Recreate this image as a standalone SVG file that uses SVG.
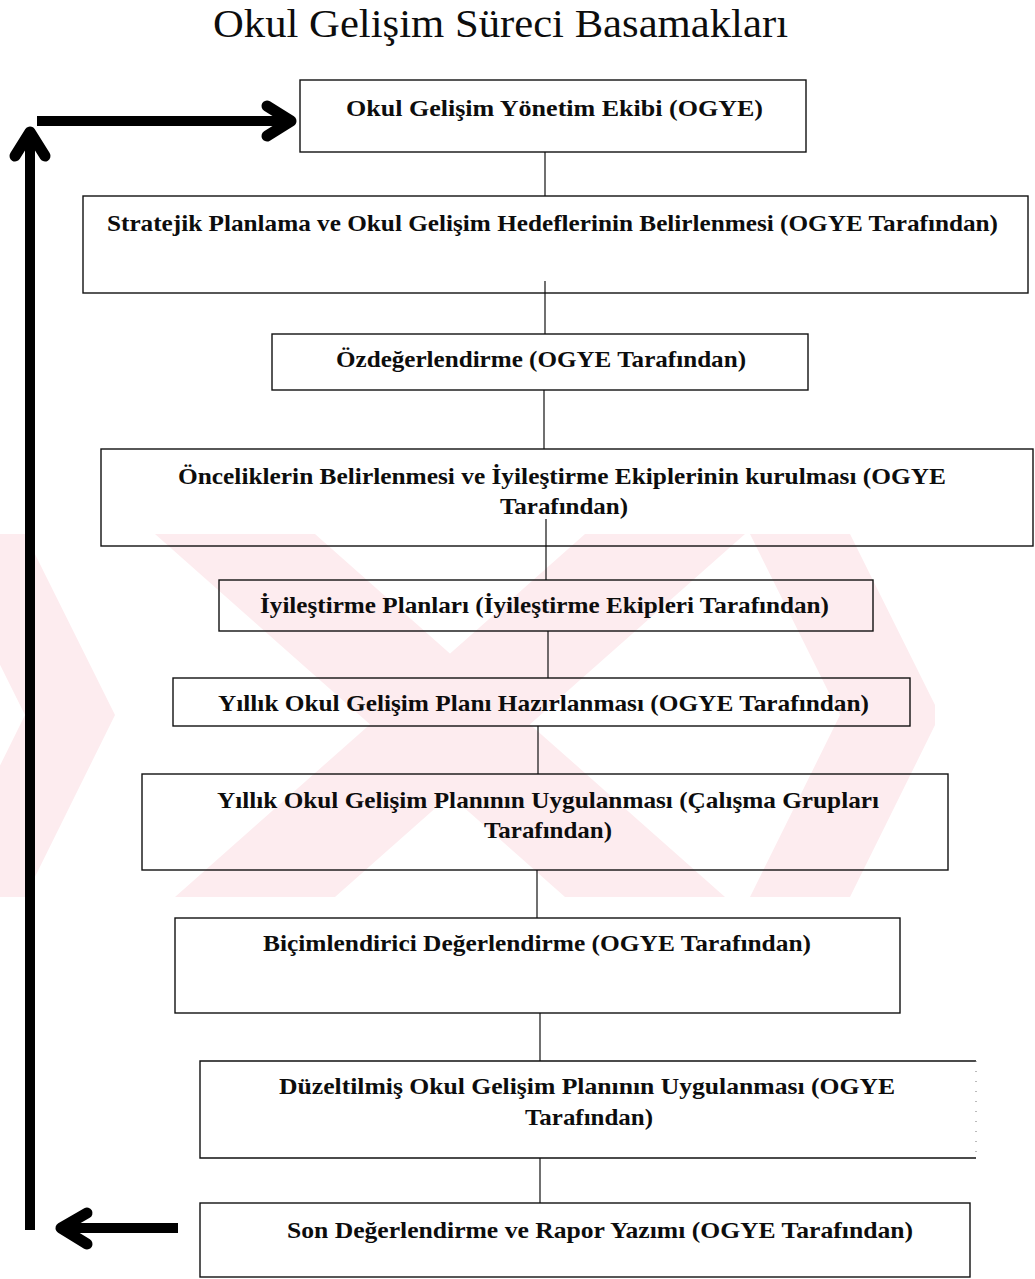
<svg xmlns="http://www.w3.org/2000/svg" width="1035" height="1279" viewBox="0 0 1035 1279">
  <defs>
    <style>
      .box { fill: none; stroke: #111; stroke-width: 1.4; }
      .lbl { font-family: "Liberation Serif", "Times New Roman", serif; font-weight: bold; font-size: 24px; fill: #0d0d0d; }
      .title { font-family: "Liberation Serif", "Times New Roman", serif; font-size: 41px; fill: #0d0d0d; }
      .link { stroke: #111; stroke-width: 1.2; fill: none; }
      .thick { stroke: #000; stroke-width: 10; fill: none; }
      .head { stroke: #000; stroke-width: 11; fill: none; stroke-linecap: round; stroke-linejoin: round; }
      .wm { fill: #fdecef; }
    </style>
    <clipPath id="wmClip">
      <rect x="0" y="534" width="935" height="363"/>
    </clipPath>
  </defs>

  <rect x="0" y="0" width="1035" height="1279" fill="#fff"/>

  <!-- pale background emblem -->
  <g id="emblem" clip-path="url(#wmClip)">
    <polygon class="wm" points="-65,534 25,534 115,715 25,897 -65,897 25,715"/>
    <polygon class="wm" points="155,534 315,534 725,897 565,897"/>
    <polygon class="wm" points="585,534 745,534 335,897 175,897"/>
    <polygon class="wm" points="750,534 850,534 940,715 850,897 750,897 840,715"/>
  </g>

  <text class="title" x="213" y="37" textLength="575" lengthAdjust="spacingAndGlyphs">Okul Gelişim Süreci Basamakları</text>

  <!-- connectors -->
  <g id="connectors">
    <line class="link" x1="545" y1="152" x2="545" y2="196"/>
    <line class="link" x1="545" y1="281" x2="545" y2="334"/>
    <line class="link" x1="544" y1="390" x2="544" y2="449"/>
    <line class="link" x1="546" y1="519" x2="546" y2="580"/>
    <line class="link" x1="548" y1="631" x2="548" y2="678"/>
    <line class="link" x1="538" y1="726" x2="538" y2="774"/>
    <line class="link" x1="537" y1="870" x2="537" y2="918"/>
    <line class="link" x1="540" y1="1013" x2="540" y2="1061"/>
    <line class="link" x1="540" y1="1158" x2="540" y2="1203"/>

    <!-- feedback loop -->
    <line class="thick" x1="30" y1="1230" x2="30" y2="138"/>
    <polyline class="head" points="15,156 30,132 45,156"/>
    <line class="thick" x1="37" y1="121" x2="288" y2="121"/>
    <polyline class="head" points="267,106 291,121 267,136"/>
    <line class="thick" x1="178" y1="1228" x2="66" y2="1228"/>
    <polyline class="head" points="87,1213 61,1228 87,1244"/>
  </g>

  <g id="n1">
    <rect class="box" x="300" y="80" width="506" height="72"/>
    <text class="lbl" x="346" y="116" textLength="417" lengthAdjust="spacingAndGlyphs">Okul Gelişim Yönetim Ekibi  (OGYE)</text>
  </g>
  <g id="n2">
    <rect class="box" x="83" y="196" width="945" height="97"/>
    <text class="lbl" x="107" y="231" textLength="891" lengthAdjust="spacingAndGlyphs">Stratejik Planlama ve Okul Gelişim Hedeflerinin Belirlenmesi (OGYE Tarafından)</text>
  </g>
  <g id="n3">
    <rect class="box" x="272" y="334" width="536" height="56"/>
    <text class="lbl" x="336" y="367" textLength="410" lengthAdjust="spacingAndGlyphs">Özdeğerlendirme (OGYE Tarafından)</text>
  </g>
  <g id="n4">
    <rect class="box" x="101" y="449" width="932" height="97"/>
    <text class="lbl" x="178" y="484" textLength="768" lengthAdjust="spacingAndGlyphs">Önceliklerin Belirlenmesi ve İyileştirme Ekiplerinin kurulması (OGYE</text>
    <text class="lbl" x="500" y="514" textLength="128" lengthAdjust="spacingAndGlyphs">Tarafından)</text>
  </g>
  <g id="n5">
    <rect class="box" x="219" y="580" width="654" height="51"/>
    <text class="lbl" x="260" y="613" textLength="569" lengthAdjust="spacingAndGlyphs">İyileştirme Planları (İyileştirme Ekipleri Tarafından)</text>
  </g>
  <g id="n6">
    <rect class="box" x="173" y="678" width="737" height="48"/>
    <text class="lbl" x="218" y="711" textLength="651" lengthAdjust="spacingAndGlyphs">Yıllık Okul Gelişim Planı Hazırlanması (OGYE Tarafından)</text>
  </g>
  <g id="n7">
    <rect class="box" x="142" y="774" width="806" height="96"/>
    <text class="lbl" x="217" y="808" textLength="662" lengthAdjust="spacingAndGlyphs">Yıllık Okul Gelişim Planının Uygulanması (Çalışma Grupları</text>
    <text class="lbl" x="484" y="838" textLength="128" lengthAdjust="spacingAndGlyphs">Tarafından)</text>
  </g>
  <g id="n8">
    <rect class="box" x="175" y="918" width="725" height="95"/>
    <text class="lbl" x="263" y="951" textLength="548" lengthAdjust="spacingAndGlyphs">Biçimlendirici Değerlendirme (OGYE Tarafından)</text>
  </g>
  <g id="n9">
    <polyline class="box" points="976,1061 200,1061 200,1158 976,1158"/>
    <line x1="976" y1="1061" x2="976" y2="1158" stroke="#777" stroke-width="1" stroke-dasharray="1 9"/>
    <text class="lbl" x="279" y="1094" textLength="616" lengthAdjust="spacingAndGlyphs">Düzeltilmiş Okul Gelişim Planının Uygulanması (OGYE</text>
    <text class="lbl" x="525" y="1125" textLength="128" lengthAdjust="spacingAndGlyphs">Tarafından)</text>
  </g>
  <g id="n10">
    <rect class="box" x="200" y="1203" width="770" height="74"/>
    <text class="lbl" x="287" y="1238" textLength="626" lengthAdjust="spacingAndGlyphs">Son Değerlendirme ve Rapor Yazımı (OGYE Tarafından)</text>
  </g>
</svg>
